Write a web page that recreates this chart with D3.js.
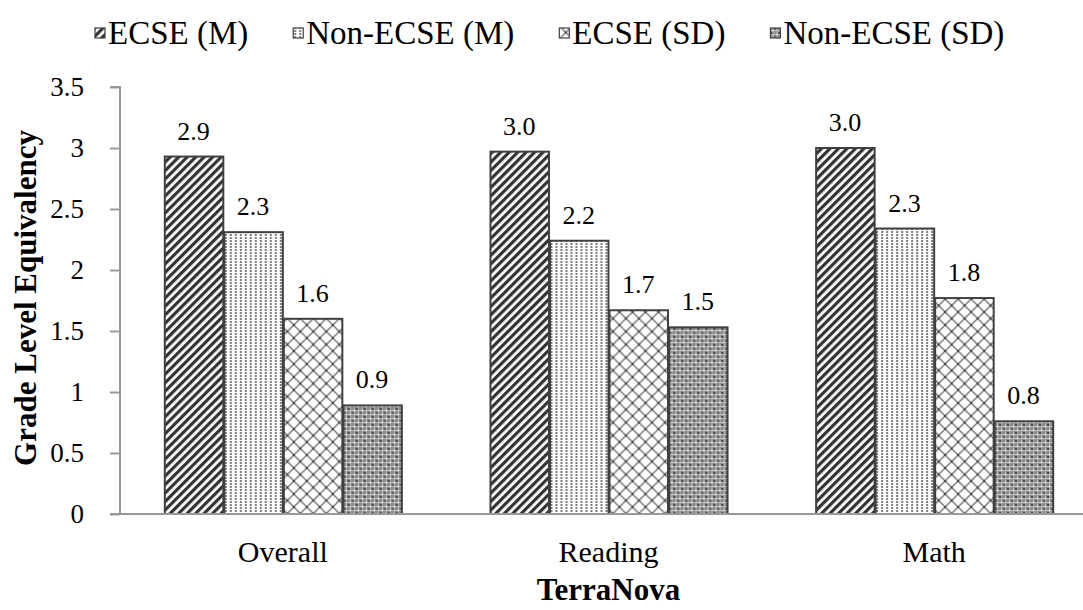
<!DOCTYPE html>
<html>
<head>
<meta charset="utf-8">
<script src="https://cdn.jsdelivr.net/npm/d3@7"></script>
<style>
  html, body { margin: 0; padding: 0; background: #fff; }
  svg { display: block; font-family: "Liberation Serif", "Times New Roman", serif; }
</style>
</head>
<body>
<svg id="chart" width="1083" height="610"></svg>
<script>
// Grade level equivalency on the TerraNova, by subtest
const categories = ["Overall", "Reading", "Math"];
const seriesNames = ["ECSE (M)", "Non-ECSE (M)", "ECSE (SD)", "Non-ECSE (SD)"];
const ecseMean = [2.93, 2.97, 3.0];
const nonEcseMean = [2.31, 2.24, 2.34];
const ecseSD = [1.60, 1.67, 1.77];
const nonEcseSD = [0.89, 1.53, 0.76];
const yTicks = [0, 0.5, 1, 1.5, 2, 2.5, 3, 3.5];

const seriesValues = [ecseMean, nonEcseMean, ecseSD, nonEcseSD];
const patternIds = ["pat-stripe", "pat-dots", "pat-diamond", "pat-grid"];

const FONT = "Liberation Serif, Times New Roman, serif";
const svg = d3.select("#chart");
const plot = { left: 120, right: 1097, top: 87, bottom: 514 };

// Fill patterns for the four series
const defs = svg.append("defs");

// wide diagonal stripes
const p1 = defs.append("pattern").attr("id", "pat-stripe")
  .attr("patternUnits", "userSpaceOnUse").attr("width", 6).attr("height", 6)
  .attr("patternTransform", "rotate(45)");
p1.append("rect").attr("width", 6).attr("height", 6).attr("fill", "#fff");
p1.append("rect").attr("width", 3.2).attr("height", 6).attr("fill", "#333");

// small dots in columns
const p2 = defs.append("pattern").attr("id", "pat-dots")
  .attr("patternUnits", "userSpaceOnUse").attr("width", 5).attr("height", 3);
p2.append("rect").attr("width", 5).attr("height", 3).attr("fill", "#fff");
p2.append("rect").attr("x", 1).attr("y", 0).attr("width", 2).attr("height", 2).attr("fill", "#8a8a8a");
p2.append("rect").attr("x", 1.5).attr("y", 0.5).attr("width", 1).attr("height", 1).attr("fill", "#555");

// diamond lattice
const p3 = defs.append("pattern").attr("id", "pat-diamond")
  .attr("patternUnits", "userSpaceOnUse").attr("width", 13).attr("height", 13);
p3.append("rect").attr("width", 13).attr("height", 13).attr("fill", "#fff");
p3.append("path").attr("d", "M0,0L13,13M13,0L0,13").attr("stroke", "#8c8c8c").attr("stroke-width", 1.6);
[[5.5, 5.5], [-1, -1], [12, 12], [12, -1], [-1, 12]].forEach(([px, py]) =>
  p3.append("rect").attr("x", px).attr("y", py).attr("width", 2).attr("height", 2).attr("fill", "#444"));

// dense grid
const p4 = defs.append("pattern").attr("id", "pat-grid")
  .attr("patternUnits", "userSpaceOnUse").attr("width", 8).attr("height", 8);
p4.append("rect").attr("width", 8).attr("height", 8).attr("fill", "#8c8c8c");
p4.append("path").attr("d", "M0,2.5H8M0,6.5H8M2.5,0V8M6.5,0V8").attr("stroke", "#bdbdbd").attr("stroke-width", 1);
p4.append("rect").attr("x", 0).attr("y", 0).attr("width", 2).attr("height", 2).attr("fill", "#444");
p4.append("rect").attr("x", 4).attr("y", 4).attr("width", 2).attr("height", 2).attr("fill", "#5a5a5a");
p4.append("rect").attr("x", 2).attr("y", 6).attr("width", 1).attr("height", 1).attr("fill", "#fff");
p4.append("rect").attr("x", 6).attr("y", 2).attr("width", 1).attr("height", 1).attr("fill", "#fff");

// Scales
const x0 = d3.scaleBand().domain(categories)
  .range([plot.left, plot.right]).paddingInner(0.269).paddingOuter(0.1345);
const x1 = d3.scaleBand().domain(seriesNames).range([0, x0.bandwidth()]);
const y = d3.scaleLinear().domain([0, 3.5]).range([plot.bottom, plot.top]);

// Y axis
const yAxis = svg.append("g").attr("transform", `translate(${plot.left},0)`)
  .call(d3.axisLeft(y).tickValues(yTicks).tickFormat(d3.format("")).tickSize(10).tickPadding(26));
yAxis.attr("font-family", FONT).attr("font-size", 27);
yAxis.select(".domain").attr("stroke", "#999").attr("stroke-width", 2)
  .attr("d", `M-10,${plot.top}H0V${plot.bottom}`);
yAxis.selectAll(".tick line").attr("stroke", "#999").attr("stroke-width", 2);
yAxis.selectAll(".tick text").attr("fill", "#000");

// Bars
const groups = svg.append("g").selectAll("g").data(categories).join("g")
  .attr("transform", d => `translate(${x0(d)},0)`);

const cells = (c, ci) => seriesNames.map((s, si) => ({ s, si, v: seriesValues[si][ci] }));

groups.selectAll("rect").data(cells).join("rect")
  .attr("x", d => x1(d.s) + 1)
  .attr("y", d => y(d.v))
  .attr("width", x1.bandwidth() - 1)
  .attr("height", d => y(0) - y(d.v))
  .attr("fill", d => `url(#${patternIds[d.si]})`)
  .attr("stroke", "#404040").attr("stroke-width", 2);

groups.selectAll("text.val").data(cells).join("text").attr("class", "val")
  .attr("x", d => x1(d.s) + x1.bandwidth() / 2)
  .attr("y", d => y(d.v) - 17)
  .attr("text-anchor", "middle")
  .attr("font-family", FONT).attr("font-size", 26)
  .text(d => d3.format(".1f")(d.v));

// X baseline
svg.append("line").attr("x1", plot.left - 10).attr("x2", plot.right)
  .attr("y1", plot.bottom).attr("y2", plot.bottom)
  .attr("stroke", "#999").attr("stroke-width", 2);

// Category labels
svg.append("g").selectAll("text").data(categories).join("text")
  .attr("x", d => x0(d) + x0.bandwidth() / 2)
  .attr("y", 562)
  .attr("text-anchor", "middle")
  .attr("font-family", FONT).attr("font-size", 30)
  .text(d => d);

// Axis titles
svg.append("text").attr("x", (plot.left + plot.right) / 2).attr("y", 600)
  .attr("text-anchor", "middle").attr("font-family", FONT).attr("font-size", 31).attr("font-weight", "bold")
  .text("TerraNova");
svg.append("text").attr("transform", "translate(36,298) rotate(-90)")
  .attr("text-anchor", "middle").attr("font-family", FONT).attr("font-size", 31).attr("font-weight", "bold")
  .text("Grade Level Equivalency");

// Legend: swatch + label, laid out left to right
const legend = svg.append("g");
const legendGap = 45, swatch = 10, swatchGap = 3;
let lx = 95;
seriesNames.forEach((name, i) => {
  const item = legend.append("g").attr("transform", `translate(${lx},0)`);
  item.append("rect").attr("x", 0).attr("y", 28).attr("width", swatch).attr("height", swatch)
    .attr("fill", `url(#${patternIds[i]})`).attr("stroke", "#404040").attr("stroke-width", 1.2);
  const t = item.append("text").attr("x", swatch + swatchGap).attr("y", 44)
    .attr("font-family", FONT).attr("font-size", 33).text(name);
  lx += swatch + swatchGap + t.node().getComputedTextLength() + legendGap;
});
</script>
</body>
</html>
